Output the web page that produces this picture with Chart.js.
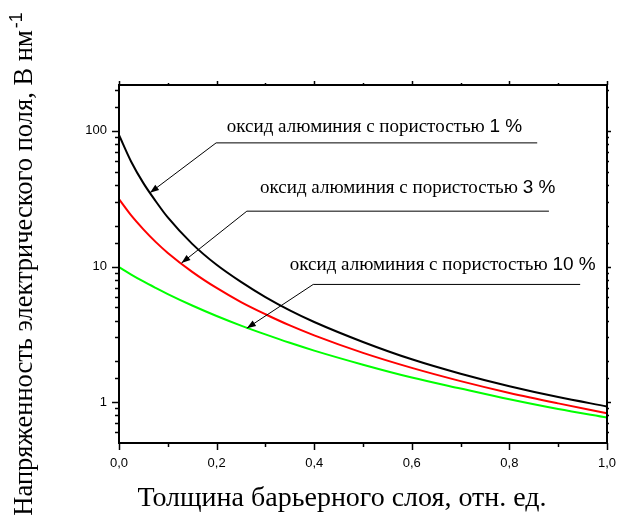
<!DOCTYPE html>
<html><head><meta charset="utf-8">
<script src="https://cdn.jsdelivr.net/npm/chart.js@4.4.0/dist/chart.umd.min.js"></script>
<style>html,body{margin:0;padding:0;background:#fff;overflow:hidden}#wrap{width:619px;height:524px;position:relative}</style>
</head><body><div id="wrap"><canvas id="c" width="619" height="524"></canvas></div>
<script>
// ---- data ----
const thickness = [0, 0.025, 0.05, 0.075, 0.1, 0.15, 0.2, 0.25, 0.3, 0.35, 0.4, 0.5, 0.6, 0.7, 0.8, 0.9, 1.0];
const field1pct  = [93.3, 59.3, 41.2, 30.4, 23.0, 14.7, 10.3, 7.7, 5.95, 4.75, 3.9, 2.78, 2.07, 1.62, 1.31, 1.09, 0.93];
const field3pct  = [31.4, 23.8, 18.8, 15.2, 12.6, 9.14, 6.95, 5.47, 4.45, 3.68, 3.11, 2.31, 1.79, 1.43, 1.17, 0.98, 0.83];
const field10pct = [9.9, 8.73, 7.76, 6.96, 6.27, 5.16, 4.32, 3.67, 3.16, 2.74, 2.40, 1.89, 1.52, 1.26, 1.05, 0.89, 0.77];
const seriesText = ['оксид алюминия с пористостью ', 'оксид алюминия с пористостью ', 'оксид алюминия с пористостью '];
const seriesNumber = ['1 %', '3 %', '10 %'];
const yLabelledTicks = [1, 10, 100];
const xTitle = 'Толщина барьерного слоя, отн. ед.';
const yTitle = 'Напряженность электрического поля, В нм';
const yTitleSup = '-1';
// annotation anchors in data units: [x, y]
const annTip   = [[0.0635, 35.0], [0.128, 10.6], [0.262, 3.51]];
const annElbow = [[0.199, 81.6], [0.262, 25.6], [0.398, 7.38]];
const annEndX  = [0.857, 0.881, 0.945];
const annText  = [[0.221, 98.3], [0.289, 35.0], [0.350, 9.5]];

const colors = ['#000000', '#ff0000', '#00ff00'];

const serif = "'Liberation Serif', 'Times New Roman', serif";
const sans = "'Liberation Sans', Arial, sans-serif";

const frameTicks = {
  id: 'frameTicks',
  afterDraw(chart) {
    const {ctx, chartArea: a, scales: {x, y}} = chart;
    ctx.save();
    ctx.strokeStyle = '#000';
    const line = (x1, y1, x2, y2) => { ctx.beginPath(); ctx.moveTo(x1, y1); ctx.lineTo(x2, y2); ctx.stroke(); };
    ctx.lineWidth = 1.5;
    x.ticks.forEach(t => {
      const n = Math.round(t.value * 10);
      const px = Math.round(x.getPixelForValue(t.value)) + 0.5;
      const major = n % 2 === 0;
      line(px, a.bottom, px, a.bottom + (major ? 7 : 4));
      line(px, a.top, px, a.top - (major ? 4 : 2));
    });
    y.ticks.forEach(t => {
      if (t.value <= y.min || t.value >= y.max) return;
      const py = Math.round(y.getPixelForValue(t.value)) + 0.5;
      const major = yLabelledTicks.includes(t.value);
      line(a.left, py, a.left - (major ? 7 : 4), py);
      line(a.right, py, a.right + (major ? 4 : 2), py);
    });
    ctx.lineWidth = 2;
    ctx.strokeRect(a.left, a.top, a.right - a.left, a.bottom - a.top);
    ctx.restore();
  }
};

const annotationsPlugin = {
  id: 'ann',
  afterDatasetsDraw(chart) {
    const {ctx, scales: {x, y}} = chart;
    ctx.save();
    for (let i = 0; i < annTip.length; i++) {
      const tx = x.getPixelForValue(annTip[i][0]), ty = y.getPixelForValue(annTip[i][1]);
      const ex = x.getPixelForValue(annElbow[i][0]), ey = y.getPixelForValue(annElbow[i][1]);
      const rx = x.getPixelForValue(annEndX[i]);
      ctx.strokeStyle = '#000'; ctx.fillStyle = '#000'; ctx.lineWidth = 1;
      ctx.beginPath(); ctx.moveTo(rx, ey); ctx.lineTo(ex, ey); ctx.lineTo(tx, ty); ctx.stroke();
      const ang = Math.atan2(ty - ey, tx - ex);
      const L = 9, W = 3.2;
      ctx.beginPath();
      ctx.moveTo(tx, ty);
      ctx.lineTo(tx - L * Math.cos(ang) + W * Math.sin(ang), ty - L * Math.sin(ang) - W * Math.cos(ang));
      ctx.lineTo(tx - L * Math.cos(ang) - W * Math.sin(ang), ty - L * Math.sin(ang) + W * Math.cos(ang));
      ctx.closePath(); ctx.fill();
      const px = x.getPixelForValue(annText[i][0]), py = y.getPixelForValue(annText[i][1]);
      ctx.textBaseline = 'alphabetic'; ctx.textAlign = 'left';
      ctx.font = '19px ' + serif;
      ctx.fillText(seriesText[i], px, py);
      const w = ctx.measureText(seriesText[i]).width;
      ctx.font = '19px ' + sans;
      ctx.fillText(seriesNumber[i], px + w, py);
    }
    ctx.restore();
  }
};

const titlesPlugin = {
  id: 'titles',
  afterDraw(chart) {
    const {ctx, chartArea: a} = chart;
    ctx.save();
    ctx.fillStyle = '#000';
    ctx.font = '28px ' + serif;
    ctx.textBaseline = 'alphabetic'; ctx.textAlign = 'center';
    ctx.fillText(xTitle, 342, 506);
    ctx.font = '26.5px ' + serif;
    const w1 = ctx.measureText(yTitle).width;
    ctx.font = '18px ' + sans;
    const w2 = ctx.measureText(yTitleSup).width;
    const total = w1 + w2 + 2;
    ctx.translate(32, (a.top + a.bottom) / 2);
    ctx.rotate(-Math.PI / 2);
    ctx.textAlign = 'left';
    ctx.font = '26.5px ' + serif;
    ctx.fillText(yTitle, -total / 2, 0);
    ctx.font = '18px ' + sans;
    ctx.fillText(yTitleSup, -total / 2 + w1 + 2, -10);
    ctx.restore();
  }
};

const mk = (vals) => thickness.map((t, i) => ({x: t, y: vals[i]}));

new Chart(document.getElementById('c'), {
  type: 'line',
  data: {
    datasets: [
      {label: seriesText[0] + seriesNumber[0], data: mk(field1pct), borderColor: colors[0]},
      {label: seriesText[1] + seriesNumber[1], data: mk(field3pct), borderColor: colors[1]},
      {label: seriesText[2] + seriesNumber[2], data: mk(field10pct), borderColor: colors[2]}
    ]
  },
  options: {
    responsive: false,
    animation: false,
    layout: {padding: {top: 85, right: 0, left: 0, bottom: 0}},
    elements: {
      line: {borderWidth: 2, cubicInterpolationMode: 'monotone', fill: false},
      point: {radius: 0}
    },
    plugins: {legend: {display: false}, tooltip: {enabled: false}},
    scales: {
      x: {
        type: 'linear', min: 0, max: 1,
        grid: {display: false, drawTicks: false}, border: {display: false},
        afterFit: s => { s.height = 81; s.paddingRight = 12; s.paddingLeft = 0; },
        ticks: {
          stepSize: 0.1, autoSkip: false, maxRotation: 0, padding: 13,
          color: '#000', font: {family: sans, size: 13},
          callback: v => { const n = Math.round(v * 10); return n % 2 === 0 ? (n / 10).toFixed(1).replace('.', ',') : ''; }
        },
        title: {display: false, text: xTitle}
      },
      y: {
        type: 'logarithmic', min: 0.5, max: 218,
        grid: {display: false, drawTicks: false}, border: {display: false},
        afterFit: s => { s.width = 119; s.paddingTop = 0; s.paddingBottom = 0; },
        ticks: {
          autoSkip: false, padding: 12, color: '#000', font: {family: sans, size: 13},
          callback: v => yLabelledTicks.includes(v) ? String(v) : ''
        },
        title: {display: false, text: yTitle}
      }
    }
  },
  plugins: [annotationsPlugin, frameTicks, titlesPlugin]
});
</script></body></html>
